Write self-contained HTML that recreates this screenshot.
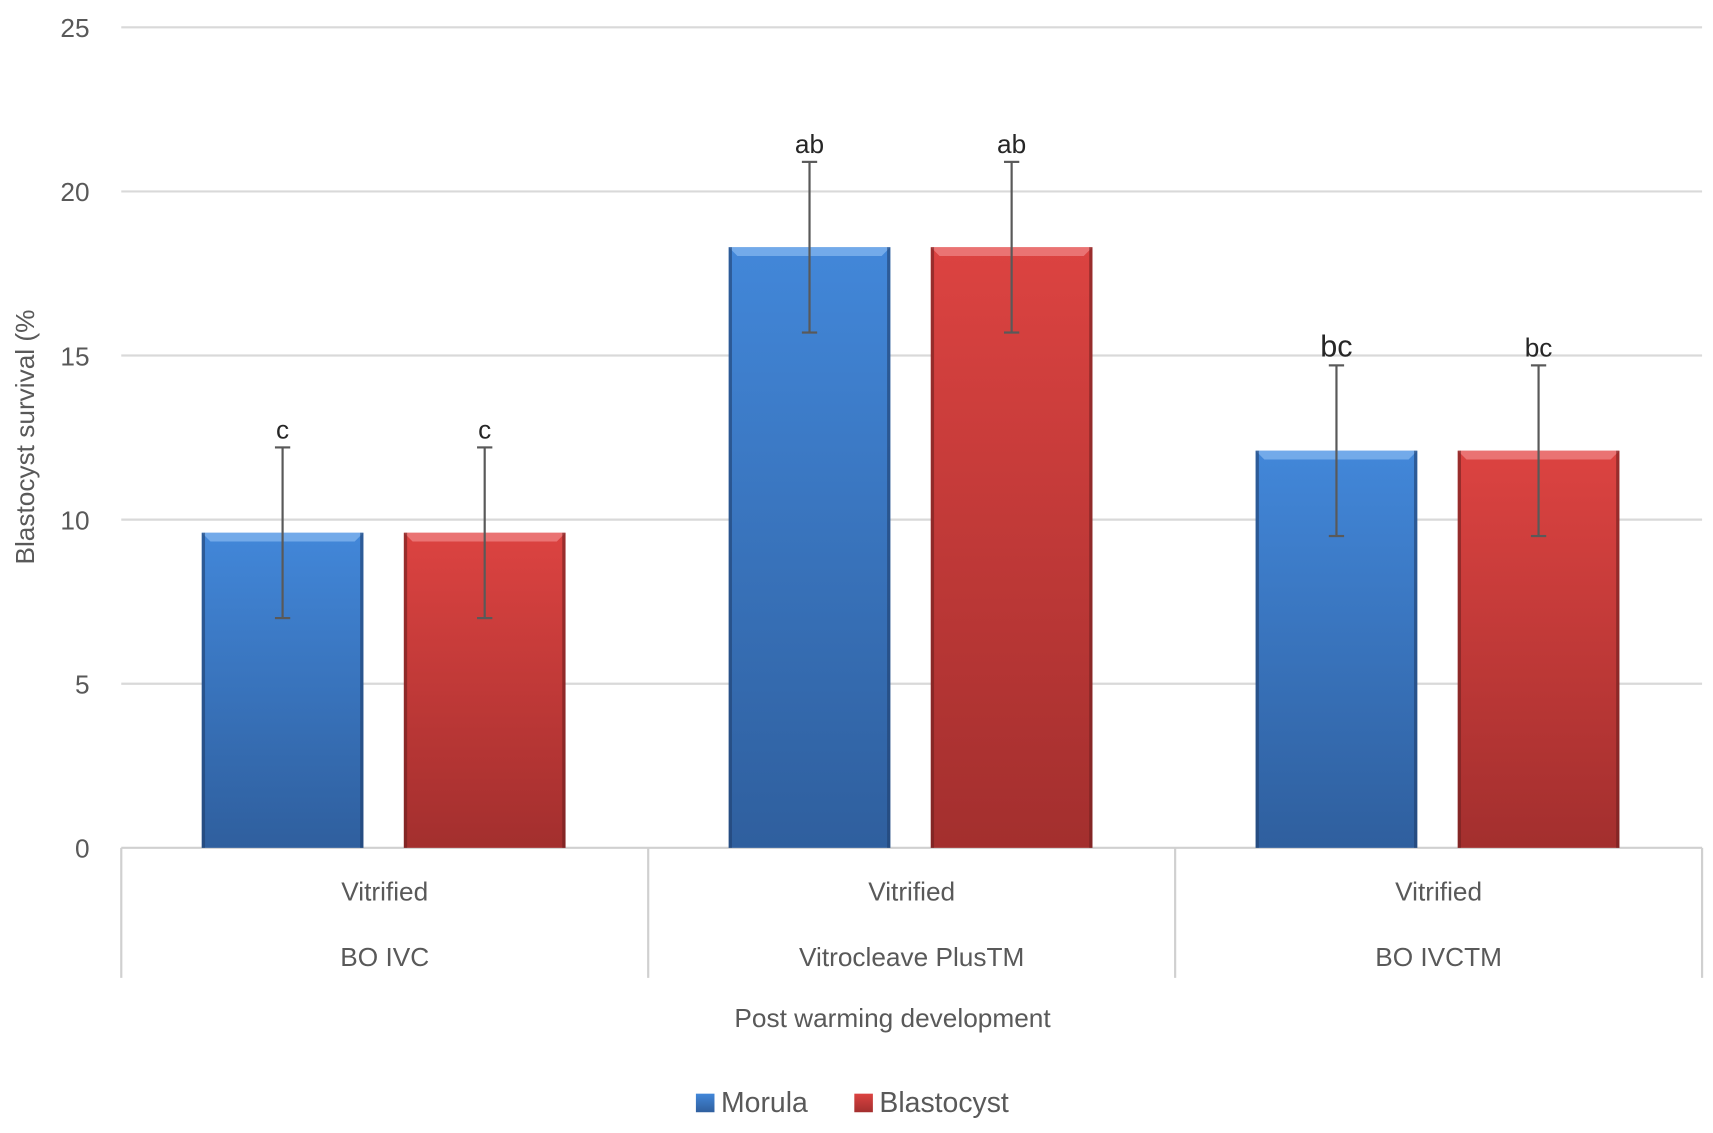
<!DOCTYPE html>
<html><head><meta charset="utf-8"><style>
html,body{margin:0;padding:0;background:#fff;}
svg{display:block;font-family:"Liberation Sans",sans-serif;}
</style></head><body>
<svg id="chart" width="1713" height="1133" viewBox="0 0 1568 1037" preserveAspectRatio="none" xmlns="http://www.w3.org/2000/svg">
<defs>
<linearGradient id="gBlue" x1="0" y1="0" x2="0" y2="1"><stop offset="0" stop-color="#4287d9"/><stop offset="1" stop-color="#2f5f9e"/></linearGradient>
<linearGradient id="gRed" x1="0" y1="0" x2="0" y2="1"><stop offset="0" stop-color="#dc4341"/><stop offset="1" stop-color="#a32f2e"/></linearGradient>
</defs>
<g id="grid"></g>
<g id="bars"></g>
<g id="labels"></g>
</svg>
<script>
const categories = ["BO IVC", "Vitrocleave PlusTM", "BO IVCTM"];
const subLabel = "Vitrified";
const seriesNames = ["Morula", "Blastocyst"];
const morula = [9.6, 18.3, 12.1];
const blastocyst = [9.6, 18.3, 12.1];
const morulaErr = [2.6, 2.6, 2.6];
const blastocystErr = [2.6, 2.6, 2.6];
const morulaLetters = ["c", "ab", "bc"];
const blastocystLetters = ["c", "ab", "bc"];
const yTicks = [0, 5, 10, 15, 20, 25];

const NS = "http://www.w3.org/2000/svg";
const X0 = 111, X1 = 1558, Y0 = 776, Y25 = 25;
const yScale = v => Y0 - (v / 25) * (Y0 - Y25);
const catW = (X1 - X0) / categories.length;
function mk(tag, attrs, parent, text) {
  const e = document.createElementNS(NS, tag);
  for (const k in attrs) e.setAttribute(k, attrs[k]);
  if (text !== undefined) e.textContent = text;
  parent.appendChild(e);
  return e;
}
const grid = document.getElementById('grid');
const bars = document.getElementById('bars');
const labels = document.getElementById('labels');

yTicks.forEach(t => {
  const y = yScale(t);
  if (t > 0) {
    const l = mk('line', {x1: X0, x2: X1, y1: y, y2: y, stroke: '#d9d9d9', 'stroke-width': 2}, grid);
    
    
  }
  const tx = mk('text', {x: 82, y: y + 9, 'text-anchor': 'end', 'font-size': 24, fill: '#595959'}, labels, String(t));
  
  
});
const ax = mk('line', {x1: X0, x2: X1, y1: Y0, y2: Y0, stroke: '#d0d0d0', 'stroke-width': 2}, grid);


for (let i = 0; i <= categories.length; i++) {
  const x = X0 + i * catW;
  const l = mk('line', {x1: x, x2: x, y1: Y0, y2: 895, stroke: '#d0d0d0', 'stroke-width': 2}, grid);
  
  
}

const barW = 148, gap = 37;
function drawBar(cx, v, err, fill, edge, light, letter, name, letterSize) {
  const x = cx - barW / 2, y = yScale(v), h = Y0 - y;
  const g = mk('g', {}, bars);
  
  
  mk('rect', {x: x, y: y, width: barW, height: h, fill: fill}, g);
  mk('polygon', {points: `${x},${y} ${x+barW},${y} ${x+barW-8},${y+8} ${x+8},${y+8}`, fill: light, opacity: 0.8}, g);
  mk('rect', {x: x, y: y, width: 3, height: h, fill: edge, opacity: 0.6}, g);
  mk('rect', {x: x + barW - 3, y: y, width: 3, height: h, fill: edge, opacity: 0.6}, g);
  const top = yScale(v + err), bot = yScale(v - err);
  const eb = mk('g', {stroke: '#595959', 'stroke-width': 2}, bars);
  
  
  mk('line', {x1: cx, x2: cx, y1: top, y2: bot}, eb);
  mk('line', {x1: cx - 7, x2: cx + 7, y1: top, y2: top}, eb);
  mk('line', {x1: cx - 7, x2: cx + 7, y1: bot, y2: bot}, eb);
  const t = mk('text', {x: cx, y: top - 8, 'text-anchor': 'middle', 'font-size': letterSize, fill: '#262626'}, labels, letter);
  
  
}
categories.forEach((c, i) => {
  const cc = X0 + (i + 0.5) * catW;
  const mx = cc - gap / 2 - barW / 2 - 1, bx = cc + gap / 2 + barW / 2 - 1;
  drawBar(mx, morula[i], morulaErr[i], 'url(#gBlue)', '#1f3f6e', '#7fb3ee', morulaLetters[i], 'bar-morula-' + i, i === 2 ? 28 : 24);
  drawBar(bx, blastocyst[i], blastocystErr[i], 'url(#gRed)', '#6e1f1f', '#ee8080', blastocystLetters[i], 'bar-blastocyst-' + i, 24);
  const t1 = mk('text', {x: cc, y: 824, 'text-anchor': 'middle', 'font-size': 24, fill: '#595959'}, labels, subLabel);
  
  
  const t2 = mk('text', {x: cc, y: 884, 'text-anchor': 'middle', 'font-size': 24, fill: '#595959'}, labels, c);
  
  
});
</script>
<script>
(function(){
const NS = "http://www.w3.org/2000/svg";
const svg = document.getElementById('chart');
function mk(tag, attrs, text){const e=document.createElementNS(NS,tag);for(const k in attrs)e.setAttribute(k,attrs[k]);if(text!==undefined)e.textContent=text;svg.appendChild(e);return e;}
const xt = mk('text',{x:817,y:940,'text-anchor':'middle','font-size':24,fill:'#595959'},'Post warming development');


const yt = mk('text',{x:0,y:0,'text-anchor':'middle','font-size':24,fill:'#595959',transform:'translate(31,400) rotate(-90)'},'Blastocyst survival (%');


const l1 = mk('rect',{x:637,y:1001,width:17,height:17,fill:'url(#gBlue)'});


const lt1 = mk('text',{x:660,y:1018,'font-size':26,fill:'#595959'},seriesNames[0]);


const l2 = mk('rect',{x:782,y:1001,width:17,height:17,fill:'url(#gRed)'});


const lt2 = mk('text',{x:805,y:1018,'font-size':26,fill:'#595959'},seriesNames[1]);


})();
</script>
</body></html>
